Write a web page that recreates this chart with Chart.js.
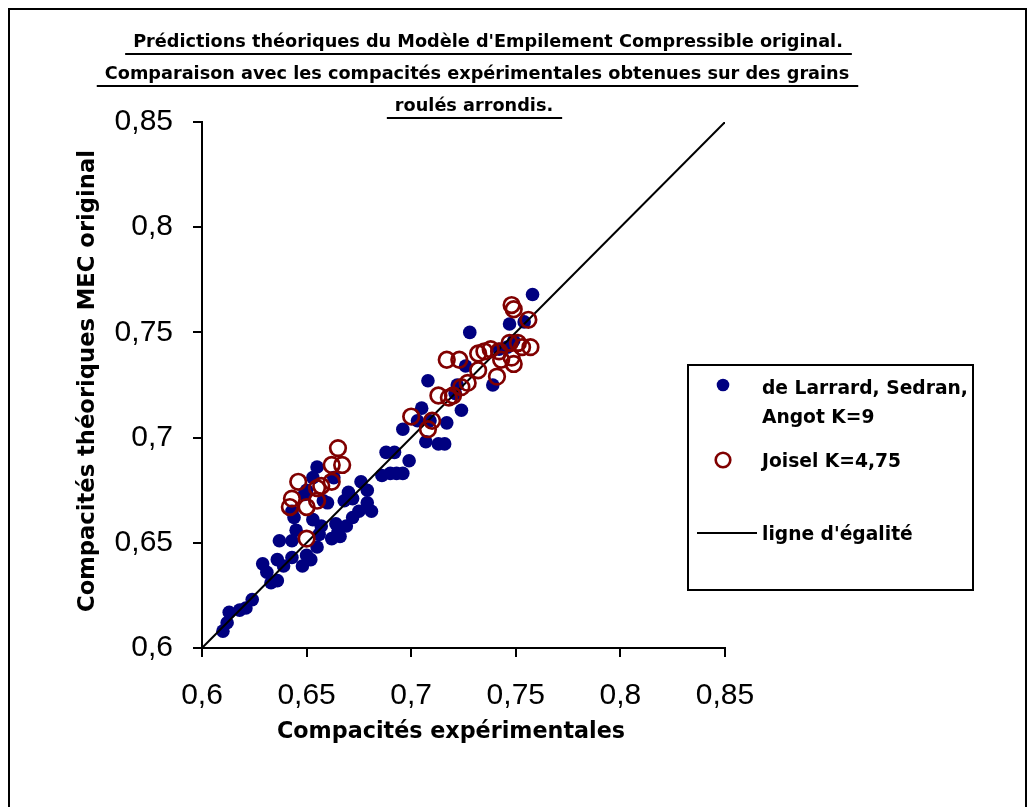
<!DOCTYPE html>
<html><head><meta charset="utf-8">
<script src="https://cdn.jsdelivr.net/npm/chart.js@4/dist/chart.umd.min.js"></script>
<style>html,body{margin:0;padding:0;background:#fff}canvas{display:block}</style>
</head><body>
<canvas id="c" width="1032" height="807"></canvas>
<script>
// ---- Data ----
const titleLines = [
  "Prédictions théoriques du Modèle d'Empilement Compressible original.",
  "Comparaison avec les compacités expérimentales obtenues sur des grains",
  "roulés arrondis."
];
const xAxisTitle = "Compacités expérimentales";
const yAxisTitle = "Compacités théoriques MEC original";
const xTickLabels = ["0,6", "0,65", "0,7", "0,75", "0,8", "0,85"];
const yTickLabels = ["0,6", "0,65", "0,7", "0,75", "0,8", "0,85"];
const seriesNames = ["de Larrard, Sedran, Angot K=9", "Joisel K=4,75", "ligne d'égalité"];

const larrardX = [0.610,0.612,0.613,0.618,0.621,0.624,0.629,0.631,0.633,0.636,0.636,0.639,0.643,0.648,0.652,
  0.637,0.643,0.645,0.644,0.643,0.653,0.657,0.664,0.669,0.656,0.662,0.666,0.655,0.650,0.655,0.653,0.650,0.649,
  0.658,0.660,0.663,0.670,0.668,0.672,0.676,0.679,0.679,0.681,0.675,0.672,0.665,0.686,0.690,0.693,0.696,0.688,
  0.692,0.699,0.696,0.705,0.708,0.703,0.709,0.707,0.713,0.716,0.717,0.724,0.722,0.726,0.739,0.728,0.746,0.747,
  0.754,0.758,0.742,0.749,0.721];
const larrardY = [0.608,0.612,0.617,0.618,0.619,0.623,0.640,0.636,0.631,0.632,0.642,0.639,0.643,0.639,0.642,
  0.651,0.651,0.656,0.662,0.665,0.661,0.658,0.659,0.658,0.654,0.652,0.653,0.648,0.644,0.686,0.681,0.675,0.673,
  0.670,0.669,0.681,0.674,0.670,0.671,0.679,0.675,0.669,0.665,0.665,0.662,0.655,0.682,0.683,0.683,0.683,0.693,
  0.693,0.689,0.704,0.714,0.727,0.708,0.708,0.698,0.697,0.697,0.707,0.713,0.725,0.734,0.725,0.750,0.743,0.754,
  0.755,0.768,0.742,0.746,0.721];

const joiselX = [0.665,0.662,0.667,0.646,0.662,0.657,0.655,0.643,0.655,0.642,0.650,0.650,
  0.700,0.710,0.708,0.713,0.718,0.720,0.724,0.727,0.732,0.717,0.723,0.732,0.735,0.738,0.741,0.742,
  0.747,0.751,0.753,0.757,0.748,0.749,0.743,0.748,0.749,0.756];
const joiselY = [0.695,0.687,0.687,0.679,0.679,0.677,0.676,0.671,0.670,0.667,0.667,0.652,
  0.710,0.708,0.704,0.720,0.719,0.720,0.724,0.726,0.732,0.737,0.737,0.740,0.741,0.742,0.729,0.741,
  0.745,0.745,0.743,0.743,0.738,0.735,0.737,0.763,0.761,0.756];

const equalityX = [0.6, 0.85];
const equalityY = [0.6, 0.85];

// ---- Build ----
const BLUE = '#000080';
const RED = '#800000';
const zip = (xs, ys) => xs.map((x, i) => ({x, y: ys[i]}));
const COMIC = "'Comic Sans MS','DejaVu Sans',sans-serif";

function fitSize(ctx, text, width, weight, family) {
  ctx.font = weight + ' 100px ' + family;
  return 100 * width / ctx.measureText(text).width;
}

const decorPlugin = {
  id: 'decor',
  afterDraw(chart) {
    const ctx = chart.ctx;
    ctx.save();
    ctx.fillStyle = '#000';
    ctx.strokeStyle = '#000';
    // outer frame (cut off at the bottom, as in the original)
    ctx.lineWidth = 2;
    ctx.strokeRect(9, 9, 1017, 820);

    // title with underlines
    const ts = fitSize(ctx, titleLines[1], 745, 'bold', COMIC);
    ctx.font = 'bold ' + ts.toFixed(2) + 'px ' + COMIC;
    ctx.textAlign = 'center';
    ctx.textBaseline = 'middle';
    const centers = [488, 477, 474];
    const ys = [42, 74, 106];
    titleLines.forEach((t, i) => {
      ctx.fillText(t, centers[i], ys[i]);
      const w = ctx.measureText(t).width;
      ctx.lineWidth = 2.2;
      ctx.beginPath();
      ctx.moveTo(centers[i] - w / 2 - 8, ys[i] + 12);
      ctx.lineTo(centers[i] + w / 2 + 9, ys[i] + 12);
      ctx.stroke();
    });

    // axis titles
    const xs = fitSize(ctx, xAxisTitle, 348, 'bold', COMIC);
    ctx.font = 'bold ' + xs.toFixed(2) + 'px ' + COMIC;
    ctx.fillText(xAxisTitle, 451, 732);
    const ysz = fitSize(ctx, yAxisTitle, 462, 'bold', COMIC);
    ctx.font = 'bold ' + ysz.toFixed(2) + 'px ' + COMIC;
    ctx.save();
    ctx.translate(88, 381);
    ctx.rotate(-Math.PI / 2);
    ctx.fillText(yAxisTitle, 0, 0);
    ctx.restore();

    // legend box
    ctx.lineWidth = 2;
    ctx.strokeRect(688, 365, 285, 225);
    const ls = fitSize(ctx, 'de Larrard, Sedran,', 206, 'bold', COMIC);
    ctx.font = 'bold ' + ls.toFixed(2) + 'px ' + COMIC;
    ctx.textAlign = 'left';
    const ds = chart.data.datasets;
    // blue marker
    ctx.fillStyle = ds[0].backgroundColor;
    ctx.beginPath(); ctx.arc(723, 385, 6.3, 0, Math.PI * 2); ctx.fill();
    ctx.fillStyle = '#000';
    const n0 = ds[0].label;
    const cut = n0.indexOf('Angot');
    ctx.fillText(n0.slice(0, cut).trim(), 762, 389);
    ctx.fillText(n0.slice(cut), 762, 418);
    // red marker
    ctx.strokeStyle = ds[1].borderColor;
    ctx.lineWidth = 2.6;
    ctx.beginPath(); ctx.arc(723, 460, 7.3, 0, Math.PI * 2); ctx.stroke();
    ctx.fillText(ds[1].label, 762, 462);
    // line
    ctx.strokeStyle = '#000';
    ctx.lineWidth = 2;
    ctx.beginPath(); ctx.moveTo(697, 533); ctx.lineTo(757, 533); ctx.stroke();
    ctx.fillText(ds[2].label, 762, 535);
    ctx.restore();
  }
};

const axisCommon = {
  type: 'linear', min: 0.6, max: 0.85,
  border: {display: true, color: '#000', width: 2},
  grid: {display: true, drawOnChartArea: false, drawTicks: true, tickLength: 9, color: '#000', lineWidth: 2},
};

new Chart(document.getElementById('c'), {
  type: 'scatter',
  data: {
    datasets: [
      {label: seriesNames[0], data: zip(larrardX, larrardY), backgroundColor: BLUE, borderColor: BLUE,
       borderWidth: 0, pointRadius: 6.8, order: 3},
      {label: seriesNames[1], data: zip(joiselX, joiselY), backgroundColor: 'rgba(0,0,0,0)', borderColor: RED,
       borderWidth: 2.7, pointRadius: 7.8, order: 1},
      {label: seriesNames[2], type: 'line', data: zip(equalityX, equalityY), borderColor: '#000', borderWidth: 2,
       pointRadius: 0, showLine: true, fill: false, order: 2}
    ]
  },
  options: {
    responsive: false, animation: false, devicePixelRatio: 1,
    layout: {padding: {left: 0, top: 122, right: 307, bottom: 0}},
    plugins: {legend: {display: false}, tooltip: {enabled: false}, title: {display: false}},
    scales: {
      x: Object.assign({}, axisCommon, {
        position: 'bottom',
        ticks: {stepSize: 0.05, color: '#000', padding: 21, maxRotation: 0,
          font: {family: "'Liberation Sans', Arial, sans-serif", size: 30},
          callback: (v, i) => xTickLabels[i]},
        afterFit: s => { s.height = 159; }
      }),
      y: Object.assign({}, axisCommon, {
        position: 'left',
        ticks: {stepSize: 0.05, color: '#000', padding: 20,
          font: {family: "'Liberation Sans', Arial, sans-serif", size: 30},
          callback: (v, i) => yTickLabels[i]},
        afterFit: s => { s.width = 202; }
      })
    }
  },
  plugins: [decorPlugin]
});
</script>
</body></html>
